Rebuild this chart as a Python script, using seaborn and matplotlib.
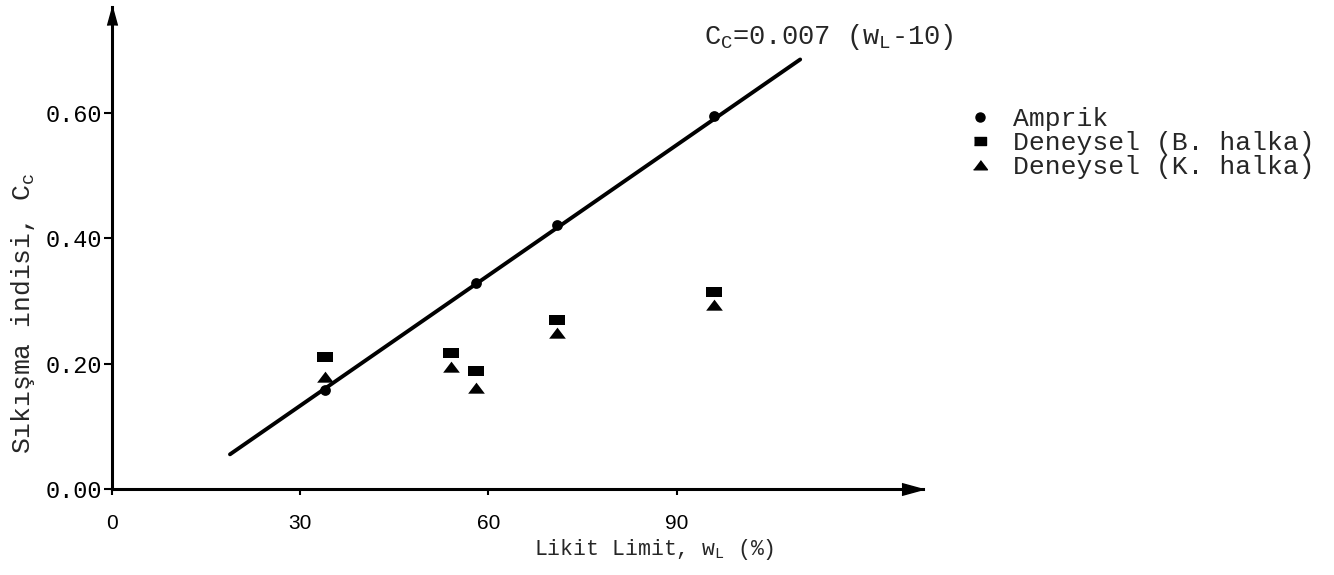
import matplotlib
matplotlib.use("Agg")
import matplotlib.pyplot as plt
import seaborn as sns
from matplotlib.lines import Line2D

# values
wl_amprik = [34, 58, 71, 96]
cc_amprik = [0.158, 0.329, 0.421, 0.595]

wl_deneysel = [34, 54, 58, 71, 96]
cc_b_halka = [0.211, 0.217, 0.188, 0.270, 0.315]
cc_k_halka = [0.178, 0.195, 0.161, 0.249, 0.294]

fit_wl = [18.8, 109.7]
fit_cc = [0.055, 0.686]

x_ticks = [0, 30, 60, 90]
y_ticks = [0.00, 0.20, 0.40, 0.60]
y_ticklabels = ["0.00", "0.20", "0.40", "0.60"]

legend_labels = ["Amprik", "Deneysel (B. halka)", "Deneysel (K. halka)"]

sns.set_theme(style="ticks")
plt.rcParams["font.family"] = ["Liberation Mono", "DejaVu Sans"]
plt.rcParams["mathtext.fontset"] = "custom"
plt.rcParams["mathtext.rm"] = "Liberation Mono"
plt.rcParams["mathtext.it"] = "Liberation Mono"

# marker shapes: flat rectangle and flat triangle like the typed figure
rect_marker = [(-1, -0.6), (1, -0.6), (1, 0.6), (-1, 0.6)]
tri_marker = [(-1, -0.62), (1, -0.62), (0, 0.7)]

fig = plt.figure(figsize=(13.34, 5.75), dpi=100)
ax = fig.add_axes([0.084, 0.150, 0.608, 0.838])

sns.lineplot(x=fit_wl, y=fit_cc, color="black", lw=2.8, ax=ax)
sns.scatterplot(x=wl_amprik, y=cc_amprik, marker="o", s=60, color="black",
                linewidth=0, ax=ax, zorder=3)
sns.scatterplot(x=wl_deneysel, y=cc_b_halka, marker=rect_marker, s=140,
                color="black", linewidth=0, ax=ax, zorder=3)
sns.scatterplot(x=wl_deneysel, y=cc_k_halka, marker=tri_marker, s=145,
                color="black", linewidth=0, ax=ax, zorder=3)

ax.set_xlim(0, 129.3)
ax.set_ylim(0, 0.77)
ax.set_xticks(x_ticks)
ax.set_xticklabels([str(t) for t in x_ticks])
ax.set_yticks(y_ticks)
ax.set_yticklabels(y_ticklabels)

for side in ["top", "right"]:
    ax.spines[side].set_visible(False)
for side in ["left", "bottom"]:
    ax.spines[side].set_linewidth(2.2)
    ax.spines[side].set_color("black")

# arrow heads at the axis ends
ax.plot(1, 0, marker=[(-2, -0.55), (0, 0), (-2, 0.55)], ms=31, color="black",
        transform=ax.transAxes, clip_on=False)
ax.plot(0, 1, marker=[(-0.55, -2), (0, 0), (0.55, -2)], ms=26, color="black",
        transform=ax.transAxes, clip_on=False)

ax.tick_params(axis="y", direction="out", length=5.8, width=1.5, pad=1,
               labelsize=17, colors="black")
ax.tick_params(axis="x", direction="out", length=4, width=1.5, pad=14,
               labelsize=15, colors="black")
for lab in ax.get_xticklabels():
    lab.set_fontfamily("Liberation Sans")

ax.set_ylabel("Sıkışma indisi, $C_c$", fontsize=19)
ax.yaxis.set_label_coords(-0.0925, 0.363)
ax.set_xlabel("Likit Limit, $w_L$ (%)", fontsize=15.5)
ax.xaxis.set_label_coords(0.669, -0.10)

fig.text(0.528, 0.923, "$C_C$=0.007 ($w_L$-10)", fontsize=19.5, va="baseline")

handles = [
    Line2D([], [], ls="", marker="o", color="black", ms=6.5),
    Line2D([], [], ls="", marker=rect_marker, color="black", ms=9),
    Line2D([], [], ls="", marker=tri_marker, color="black", ms=10),
]
fig.legend(handles, legend_labels, loc="upper left", bbox_to_anchor=(0.7268, 0.814),
           frameon=False, fontsize=19, handlelength=0.8, handletextpad=0.85,
           labelspacing=0.0, borderpad=0, borderaxespad=0)

fig.savefig("out.png", dpi=100, facecolor="white")
plt.close(fig)
